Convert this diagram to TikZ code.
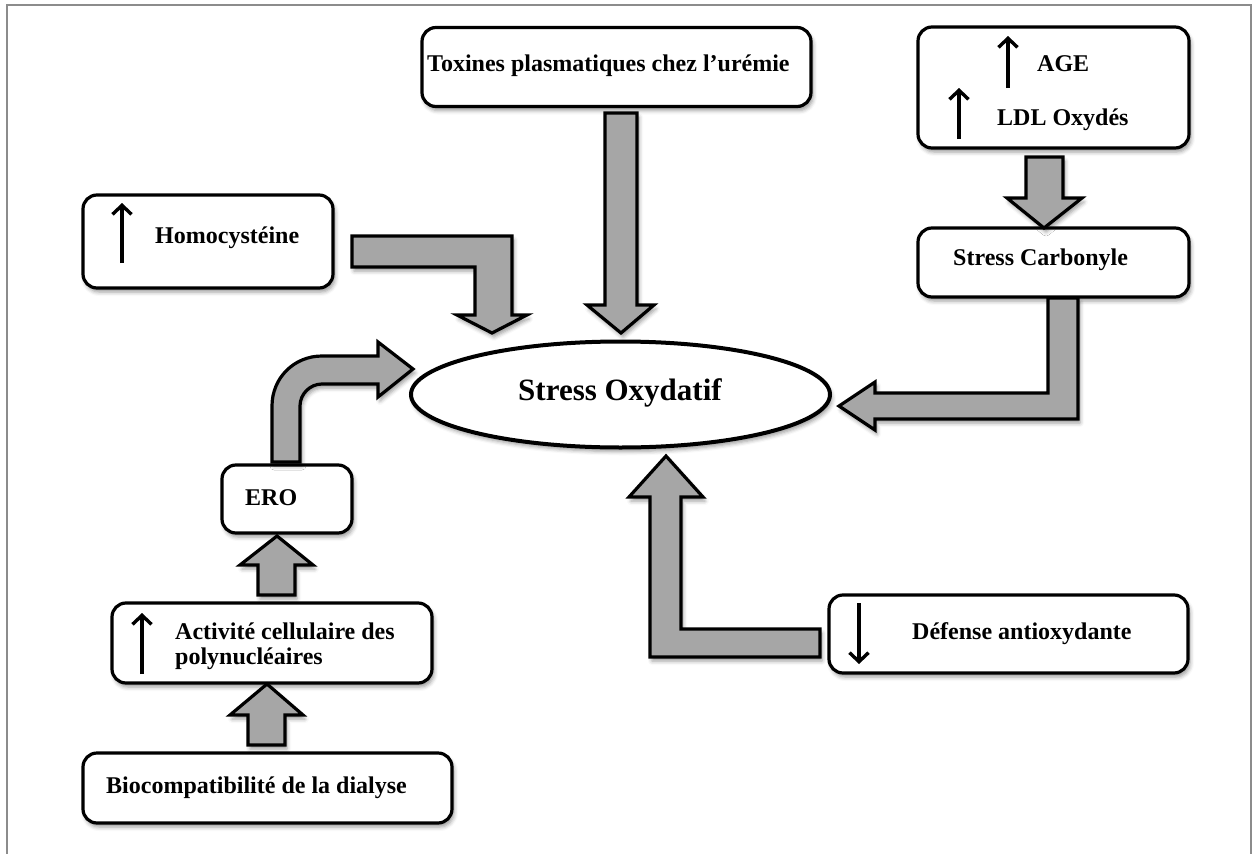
\documentclass[tikz,border=0pt]{standalone}
\usepackage{fontspec}
\setmainfont{Liberation Serif}
\usetikzlibrary{arrows.meta,shapes.geometric,shadows.blur}
\definecolor{arrowgray}{HTML}{A6A6A6}
\definecolor{framegray}{HTML}{8C8C8C}
\tikzset{
  softshadow/.style={blur shadow={shadow xshift=2pt,shadow yshift=-4pt,shadow blur radius=4pt,shadow opacity=40}},
  box/.style={draw=black,line width=3.2pt,rounded corners=14pt,fill=white,softshadow,inner sep=0pt},
  lbl/.style={font=\fontsize{24}{25}\selectfont\bfseries,inner sep=0pt},
  blockarrow/.style={draw=black,fill=arrowgray,line width=3.2pt,line join=miter,softshadow},
  thinarrow/.style={draw=black,line width=3.4pt,-{Straight Barb[length=9pt,width=19pt,line width=3.4pt]}},
}
\begin{document}
\begin{tikzpicture}[x=1pt,y=-1pt]
\useasboundingbox (0,0) rectangle (1254,854);
% frame
\draw[framegray,line width=1.8pt] (7,854) -- (7,5) -- (1251,5) -- (1251,854);

% boxes
\node[box,minimum width=389pt,minimum height=79pt] (tox) at (616.5,67) {};
\node[lbl,anchor=base west] (toxt) at (427,71) {Toxines plasmatiques chez l’urémie};

\node[box,minimum width=271pt,minimum height=121pt] (age) at (1053.5,87.5) {};
\node[lbl,anchor=base west] (aget) at (1037,71) {AGE};
\node[lbl,anchor=base west] (ldlt) at (997,125) {LDL Oxydés};
\coordinate (a1s) at (1008,88); \coordinate (a1e) at (1008,36);
\coordinate (a2s) at (959,139); \coordinate (a2e) at (959,88);
\draw[thinarrow] (a1s) -- (a1e);
\draw[thinarrow] (a2s) -- (a2e);

\node[box,minimum width=271pt,minimum height=69pt] (carb) at (1053.5,262.5) {};
\node[lbl,anchor=base west] (carbt) at (953,265) {Stress Carbonyle};

\node[box,minimum width=250pt,minimum height=93pt] (homo) at (208,241.5) {};
\node[lbl,anchor=base west] (homot) at (155,243) {Homocystéine};
\coordinate (h1s) at (122,263); \coordinate (h1e) at (122,203);
\draw[thinarrow] (h1s) -- (h1e);

\node[draw=black,line width=4pt,ellipse,fill=white,softshadow,minimum width=419pt,minimum height=106pt,inner sep=0pt] (ox) at (620.5,394.5) {};
\node[font=\fontsize{31}{32}\selectfont\bfseries,inner sep=0pt,anchor=base] (oxt) at (620,400) {Stress Oxydatif};

\node[box,minimum width=130pt,minimum height=68pt] (ero) at (287,499) {};
\node[lbl,anchor=base west] (erot) at (245,505) {ERO};

\node[box,minimum width=320pt,minimum height=80pt] (act) at (272,643) {};
\node[lbl,anchor=base west] (actt1) at (175,639) {Activité cellulaire des};
\node[lbl,anchor=base west] (actt2) at (175,664) {polynucléaires};
\coordinate (c1s) at (142,674); \coordinate (c1e) at (142,613);
\draw[thinarrow] (c1s) -- (c1e);

\node[box,minimum width=369pt,minimum height=70pt] (bio) at (267.5,788) {};
\node[lbl,anchor=base west] (biot) at (106,793) {Biocompatibilité de la dialyse};

\node[box,minimum width=359pt,minimum height=78pt] (def) at (1008.5,634) {};
\node[lbl,anchor=base west] (deft) at (912,639) {Défense antioxydante};
\coordinate (d1s) at (859,603); \coordinate (d1e) at (859,664);
\draw[thinarrow] (d1s) -- (d1e);

% block arrows
\filldraw[blockarrow] (605,113) -- (637,113) -- (637,305) -- (654,305) -- (621,333) -- (587,305) -- (605,305) -- cycle;
\filldraw[blockarrow] (352,236) -- (512,236) -- (512,315) -- (527,315) -- (492,333) -- (457,315) -- (475,315) -- (475,267) -- (352,267) -- cycle;
\filldraw[blockarrow] (1026,157) -- (1063,157) -- (1063,198) -- (1082,198) -- (1044,228) -- (1007,198) -- (1026,198) -- cycle;
\filldraw[blockarrow] (1048,298) -- (1078,298) -- (1078,419) -- (875,419) -- (875,430) -- (839,406) -- (875,382) -- (875,393) -- (1048,393) -- cycle;
\filldraw[blockarrow] (820,629) -- (820,657) -- (650,657) -- (650,497) -- (629,497) -- (666,456) -- (703,497) -- (681,497) -- (681,629) -- cycle;
\filldraw[blockarrow] (272,462) -- (272,406) .. controls (272,378) and (294,356) .. (322,356) -- (378,356) -- (378,342) -- (413,369) -- (378,397) -- (378,384) -- (322,384) .. controls (310,384) and (300,394) .. (300,406) -- (300,462) -- cycle;
\filldraw[blockarrow] (258,595) -- (258,565) -- (240,565) -- (277,536) -- (313,565) -- (295,565) -- (295,595) -- cycle;
\filldraw[blockarrow] (248,745) -- (248,715) -- (230,715) -- (267,684) -- (303,715) -- (285,715) -- (285,745) -- cycle;
\end{tikzpicture}
\end{document}
